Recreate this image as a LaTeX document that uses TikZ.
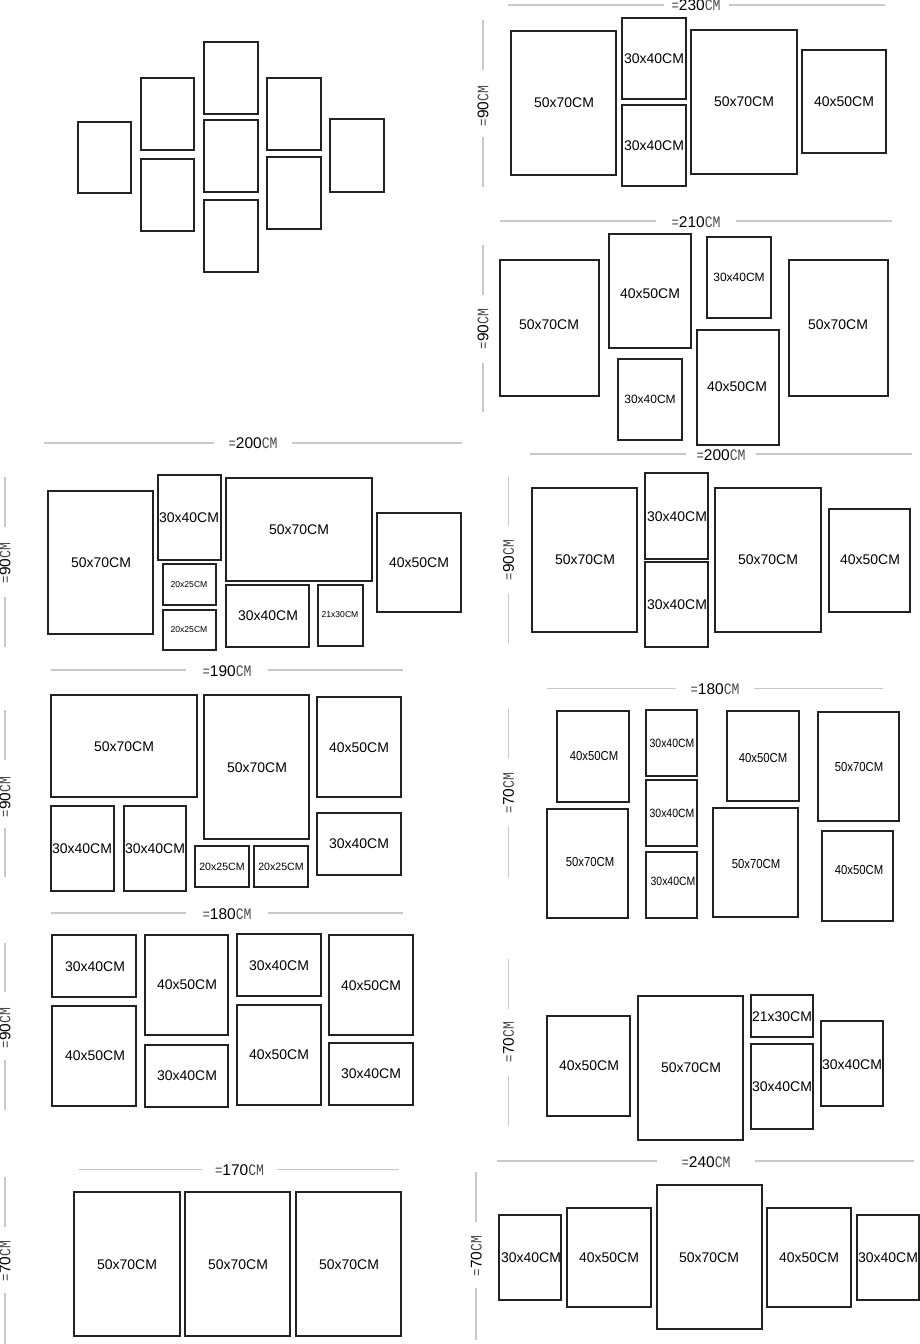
\documentclass[tikz,border=0pt]{standalone}
\usepackage{fontspec}
\setmainfont{Liberation Sans}
\newfontfamily\dimmono{Liberation Mono}[FakeStretch=0.82]
\newfontfamily\narrowsans{Liberation Sans}[FakeStretch=0.87]
\definecolor{frameclr}{HTML}{222222}
\definecolor{dimclr}{HTML}{C8C8C8}
\definecolor{cmclr}{HTML}{4A4A4A}
\newcommand\dimlabel[1]{{\color{cmclr}\dimmono\fontsize{15}{15}\selectfont=}{\fontsize{15.5}{15.5}\selectfont #1}{\color{cmclr}\dimmono\fontsize{16}{16}\selectfont CM}}
\tikzset{
  frm/.style={draw=frameclr, line width=1.8pt},
  dimline/.style={draw=dimclr, line width=1.6pt},
  lbl/.style={font=\fontsize{14}{14}\selectfont, inner sep=0pt, text=black},
  lblm/.style={font=\fontsize{12}{12}\selectfont, inner sep=0pt, text=black},
  lbls/.style={font=\fontsize{8.6}{8.6}\selectfont, inner sep=0pt, text=black},
  lblt/.style={font=\fontsize{10.6}{10.6}\selectfont, inner sep=0pt, text=black},
  lbln/.style={font=\narrowsans\fontsize{13}{13}\selectfont, inner sep=0pt, text=black},
  lblnm/.style={font=\narrowsans\fontsize{12}{12}\selectfont, inner sep=0pt, text=black},
  dimtext/.style={inner sep=0pt, text=black},
  vdimtext/.style={inner sep=0pt, text=black, rotate=90},
}
\begin{document}
\begin{tikzpicture}[x=1pt, y=-1pt]
\fill[white] (0,0) rectangle (920,1344);
\useasboundingbox (0,0) rectangle (920,1344);

% ---------- Gallery 0 (no labels)
\draw[frm] (78,122) rectangle (131,193);
\draw[frm] (141,78) rectangle (194,150);
\draw[frm] (141,159) rectangle (194,231);
\draw[frm] (204,42) rectangle (258,114);
\draw[frm] (204,120) rectangle (258,192);
\draw[frm] (204,200) rectangle (258,272);
\draw[frm] (267,78) rectangle (321,150);
\draw[frm] (267,157) rectangle (321,229);
\draw[frm] (330,119) rectangle (384,192);

% ---------- Block A (230)
\draw[dimline] (508,4.7) -- (664,4.7);
\draw[dimline] (729,4.7) -- (885,4.7);
\node[dimtext] (dA) at (696,5.5) {\dimlabel{230}};
\draw[dimline] (482.7,20) -- (482.7,70);
\draw[dimline] (482.7,137) -- (482.7,187);
\node[vdimtext] (vA) at (483,106) {\dimlabel{90}};
\draw[frm] (511,31) rectangle (616,175);
\node[lbl] (a1) at (564,103) {50x70CM};
\draw[frm] (622,18) rectangle (686,99);
\node[lbl] (a2) at (654,59) {30x40CM};
\draw[frm] (622,105) rectangle (686,186);
\node[lbl] (a3) at (654,146) {30x40CM};
\draw[frm] (691,30) rectangle (797,174);
\node[lbl] (a4) at (744,102) {50x70CM};
\draw[frm] (802,50) rectangle (886,153);
\node[lbl] (a5) at (844,102) {40x50CM};

% ---------- Block B (210)
\draw[dimline] (500,221) -- (656,221);
\draw[dimline] (736,221) -- (892,221);
\node[dimtext] (dB) at (696,222) {\dimlabel{210}};
\draw[dimline] (482.7,245) -- (482.7,295);
\draw[dimline] (482.7,363) -- (482.7,412);
\node[vdimtext] (vB) at (483,329) {\dimlabel{90}};
\draw[frm] (500,260) rectangle (599,396);
\node[lbl] (b1) at (549,325) {50x70CM};
\draw[frm] (609,234) rectangle (691,348);
\node[lbl] (b2) at (650,294) {40x50CM};
\draw[frm] (707,237) rectangle (771,318);
\node[lblm] (b3) at (739,277) {30x40CM};
\draw[frm] (789,260) rectangle (888,396);
\node[lbl] (b4) at (838,325) {50x70CM};
\draw[frm] (618,359) rectangle (682,440);
\node[lblm] (b5) at (650,399) {30x40CM};
\draw[frm] (697,330) rectangle (779,445);
\node[lbl] (b6) at (737,387) {40x50CM};

% ---------- Block C (200 left)
\draw[dimline] (44,442.7) -- (214,442.7);
\draw[dimline] (292,442.7) -- (462,442.7);
\node[dimtext] (dC) at (253,443.5) {\dimlabel{200}};
\draw[dimline] (4.7,477) -- (4.7,527);
\draw[dimline] (4.7,597) -- (4.7,647);
\node[vdimtext] (vC) at (5,563) {\dimlabel{90}};
\draw[frm] (48,491) rectangle (153,634);
\node[lbl] (c1) at (101,563) {50x70CM};
\draw[frm] (158,475) rectangle (221,560);
\node[lbl] (c2) at (189,518) {30x40CM};
\draw[frm] (163,564) rectangle (216,605);
\node[lbls] (c3) at (189,585) {20x25CM};
\draw[frm] (163,610) rectangle (216,650);
\node[lbls] (c4) at (189,630) {20x25CM};
\draw[frm] (226,478) rectangle (372,581);
\node[lbl] (c5) at (299,530) {50x70CM};
\draw[frm] (226,585) rectangle (309,647);
\node[lbl] (c6) at (268,616) {30x40CM};
\draw[frm] (318,585) rectangle (363,646);
\node[lbls] (c7) at (340,615) {21x30CM};
\draw[frm] (377,513) rectangle (461,612);
\node[lbl] (c8) at (419,563) {40x50CM};

% ---------- Block D (200 right)
\draw[dimline] (530,454) -- (686,454);
\draw[dimline] (756,454) -- (912,454);
\node[dimtext] (dD) at (721,455) {\dimlabel{200}};
\draw[dimline] (508.3,477) -- (508.3,526);
\draw[dimline] (508.3,593) -- (508.3,643);
\node[vdimtext] (vD) at (508.6,560) {\dimlabel{90}};
\draw[frm] (532,488) rectangle (637,632);
\node[lbl] (d1) at (585,560) {50x70CM};
\draw[frm] (645,473) rectangle (708,559);
\node[lbl] (d2) at (677,517) {30x40CM};
\draw[frm] (645,562) rectangle (708,647);
\node[lbl] (d3) at (677,605) {30x40CM};
\draw[frm] (715,488) rectangle (821,632);
\node[lbl] (d4) at (768,560) {50x70CM};
\draw[frm] (829,509) rectangle (910,612);
\node[lbl] (d5) at (870,560) {40x50CM};

% ---------- Block E (190)
\draw[dimline] (51,670) -- (186,670);
\draw[dimline] (268,670) -- (403,670);
\node[dimtext] (dE) at (227,671) {\dimlabel{190}};
\draw[dimline] (4.7,710) -- (4.7,760);
\draw[dimline] (4.7,828) -- (4.7,877);
\node[vdimtext] (vE) at (5,797) {\dimlabel{90}};
\draw[frm] (51,695) rectangle (197,797);
\node[lbl] (e1) at (124,747) {50x70CM};
\draw[frm] (204,695) rectangle (309,839);
\node[lbl] (e2) at (257,768) {50x70CM};
\draw[frm] (317,697) rectangle (401,797);
\node[lbl] (e3) at (359,748) {40x50CM};
\draw[frm] (51,806) rectangle (114,891);
\node[lbl] (e4) at (82,849) {30x40CM};
\draw[frm] (124,806) rectangle (186,891);
\node[lbl] (e5) at (155,849) {30x40CM};
\draw[frm] (195,846) rectangle (249,887);
\node[lblt] (e6) at (222,867) {20x25CM};
\draw[frm] (254,846) rectangle (308,887);
\node[lblt] (e7) at (281,867) {20x25CM};
\draw[frm] (317,813) rectangle (401,875);
\node[lbl] (e8) at (359,844) {30x40CM};

% ---------- Block F (180 right)
\draw[dimline] (547,688.3) -- (676,688.3);
\draw[dimline] (754,688.3) -- (883,688.3);
\node[dimtext] (dF) at (715,689.3) {\dimlabel{180}};
\draw[dimline] (508.3,709) -- (508.3,759);
\draw[dimline] (508.3,827) -- (508.3,877);
\node[vdimtext] (vF) at (508.6,793) {\dimlabel{70}};
\draw[frm] (557,711) rectangle (629,802);
\node[lbln] (f1) at (594,756) {40x50CM};
\draw[frm] (547,809) rectangle (628,918);
\node[lbln] (f2) at (590,862) {50x70CM};
\draw[frm] (646,710) rectangle (697,776);
\node[lblnm] (f3) at (672,743) {30x40CM};
\draw[frm] (646,780) rectangle (697,846);
\node[lblnm] (f4) at (672,813) {30x40CM};
\draw[frm] (646,852) rectangle (697,918);
\node[lblnm] (f5) at (673,881) {30x40CM};
\draw[frm] (727,711) rectangle (799,801);
\node[lbln] (f6) at (763,758) {40x50CM};
\draw[frm] (713,808) rectangle (798,917);
\node[lbln] (f7) at (756,864) {50x70CM};
\draw[frm] (818,712) rectangle (899,821);
\node[lbln] (f8) at (859,767) {50x70CM};
\draw[frm] (822,831) rectangle (893,921);
\node[lbln] (f9) at (859,870) {40x50CM};

% ---------- Block G (180 left)
\draw[dimline] (51,912.7) -- (186,912.7);
\draw[dimline] (268,912.7) -- (403,912.7);
\node[dimtext] (dG) at (227,913.7) {\dimlabel{180}};
\draw[dimline] (4.7,943) -- (4.7,992);
\draw[dimline] (4.7,1060) -- (4.7,1110);
\node[vdimtext] (vG) at (5,1028) {\dimlabel{90}};
\draw[frm] (52,935) rectangle (136,997);
\node[lbl] (g1) at (95,967) {30x40CM};
\draw[frm] (52,1006) rectangle (136,1106);
\node[lbl] (g2) at (95,1056) {40x50CM};
\draw[frm] (145,935) rectangle (228,1035);
\node[lbl] (g3) at (187,985) {40x50CM};
\draw[frm] (145,1045) rectangle (228,1107);
\node[lbl] (g4) at (187,1076) {30x40CM};
\draw[frm] (237,934) rectangle (321,996);
\node[lbl] (g5) at (279,966) {30x40CM};
\draw[frm] (237,1005) rectangle (321,1105);
\node[lbl] (g6) at (279,1055) {40x50CM};
\draw[frm] (329,935) rectangle (413,1035);
\node[lbl] (g7) at (371,986) {40x50CM};
\draw[frm] (329,1043) rectangle (413,1105);
\node[lbl] (g8) at (371,1074) {30x40CM};

% ---------- Block H (70 right)
\draw[dimline] (508.3,959) -- (508.3,1009);
\draw[dimline] (508.3,1076) -- (508.3,1126);
\node[vdimtext] (vH) at (508.6,1042) {\dimlabel{70}};
\draw[frm] (547,1016) rectangle (630,1116);
\node[lbl] (h1) at (589,1066) {40x50CM};
\draw[frm] (638,996) rectangle (743,1140);
\node[lbl] (h2) at (691,1068) {50x70CM};
\draw[frm] (751,995) rectangle (813,1037);
\node[lbl] (h3) at (782,1017) {21x30CM};
\draw[frm] (751,1044) rectangle (813,1129);
\node[lbl] (h4) at (782,1087) {30x40CM};
\draw[frm] (821,1021) rectangle (883,1106);
\node[lbl] (h5) at (852,1065) {30x40CM};

% ---------- Block I (170)
\draw[dimline] (79,1169.3) -- (202,1169.3);
\draw[dimline] (277,1169.3) -- (399,1169.3);
\node[dimtext] (dI) at (239.5,1170.3) {\dimlabel{170}};
\draw[dimline] (4.7,1177) -- (4.7,1227);
\draw[dimline] (4.7,1293) -- (4.7,1344);
\node[vdimtext] (vI) at (5,1261) {\dimlabel{70}};
\draw[frm] (74,1192) rectangle (180,1336);
\node[lbl] (i1) at (127,1265) {50x70CM};
\draw[frm] (185,1192) rectangle (290,1336);
\node[lbl] (i2) at (238,1265) {50x70CM};
\draw[frm] (296,1192) rectangle (401,1336);
\node[lbl] (i3) at (349,1265) {50x70CM};

% ---------- Block J (240)
\draw[dimline] (497,1160.7) -- (657,1160.7);
\draw[dimline] (755,1160.7) -- (914,1160.7);
\node[dimtext] (dJ) at (706,1161.7) {\dimlabel{240}};
\draw[dimline] (476,1172) -- (476,1222);
\draw[dimline] (476,1288) -- (476,1340);
\node[vdimtext] (vJ) at (476.3,1256) {\dimlabel{70}};
\draw[frm] (499,1215) rectangle (561,1300);
\node[lbl] (j1) at (531,1258) {30x40CM};
\draw[frm] (567,1208) rectangle (651,1307);
\node[lbl] (j2) at (609,1258) {40x50CM};
\draw[frm] (657,1185) rectangle (762,1329);
\node[lbl] (j3) at (709,1258) {50x70CM};
\draw[frm] (767,1208) rectangle (851,1307);
\node[lbl] (j4) at (809,1258) {40x50CM};
\draw[frm] (857,1215) rectangle (919,1300);
\node[lbl] (j5) at (888,1258) {30x40CM};
\end{tikzpicture}
\end{document}
